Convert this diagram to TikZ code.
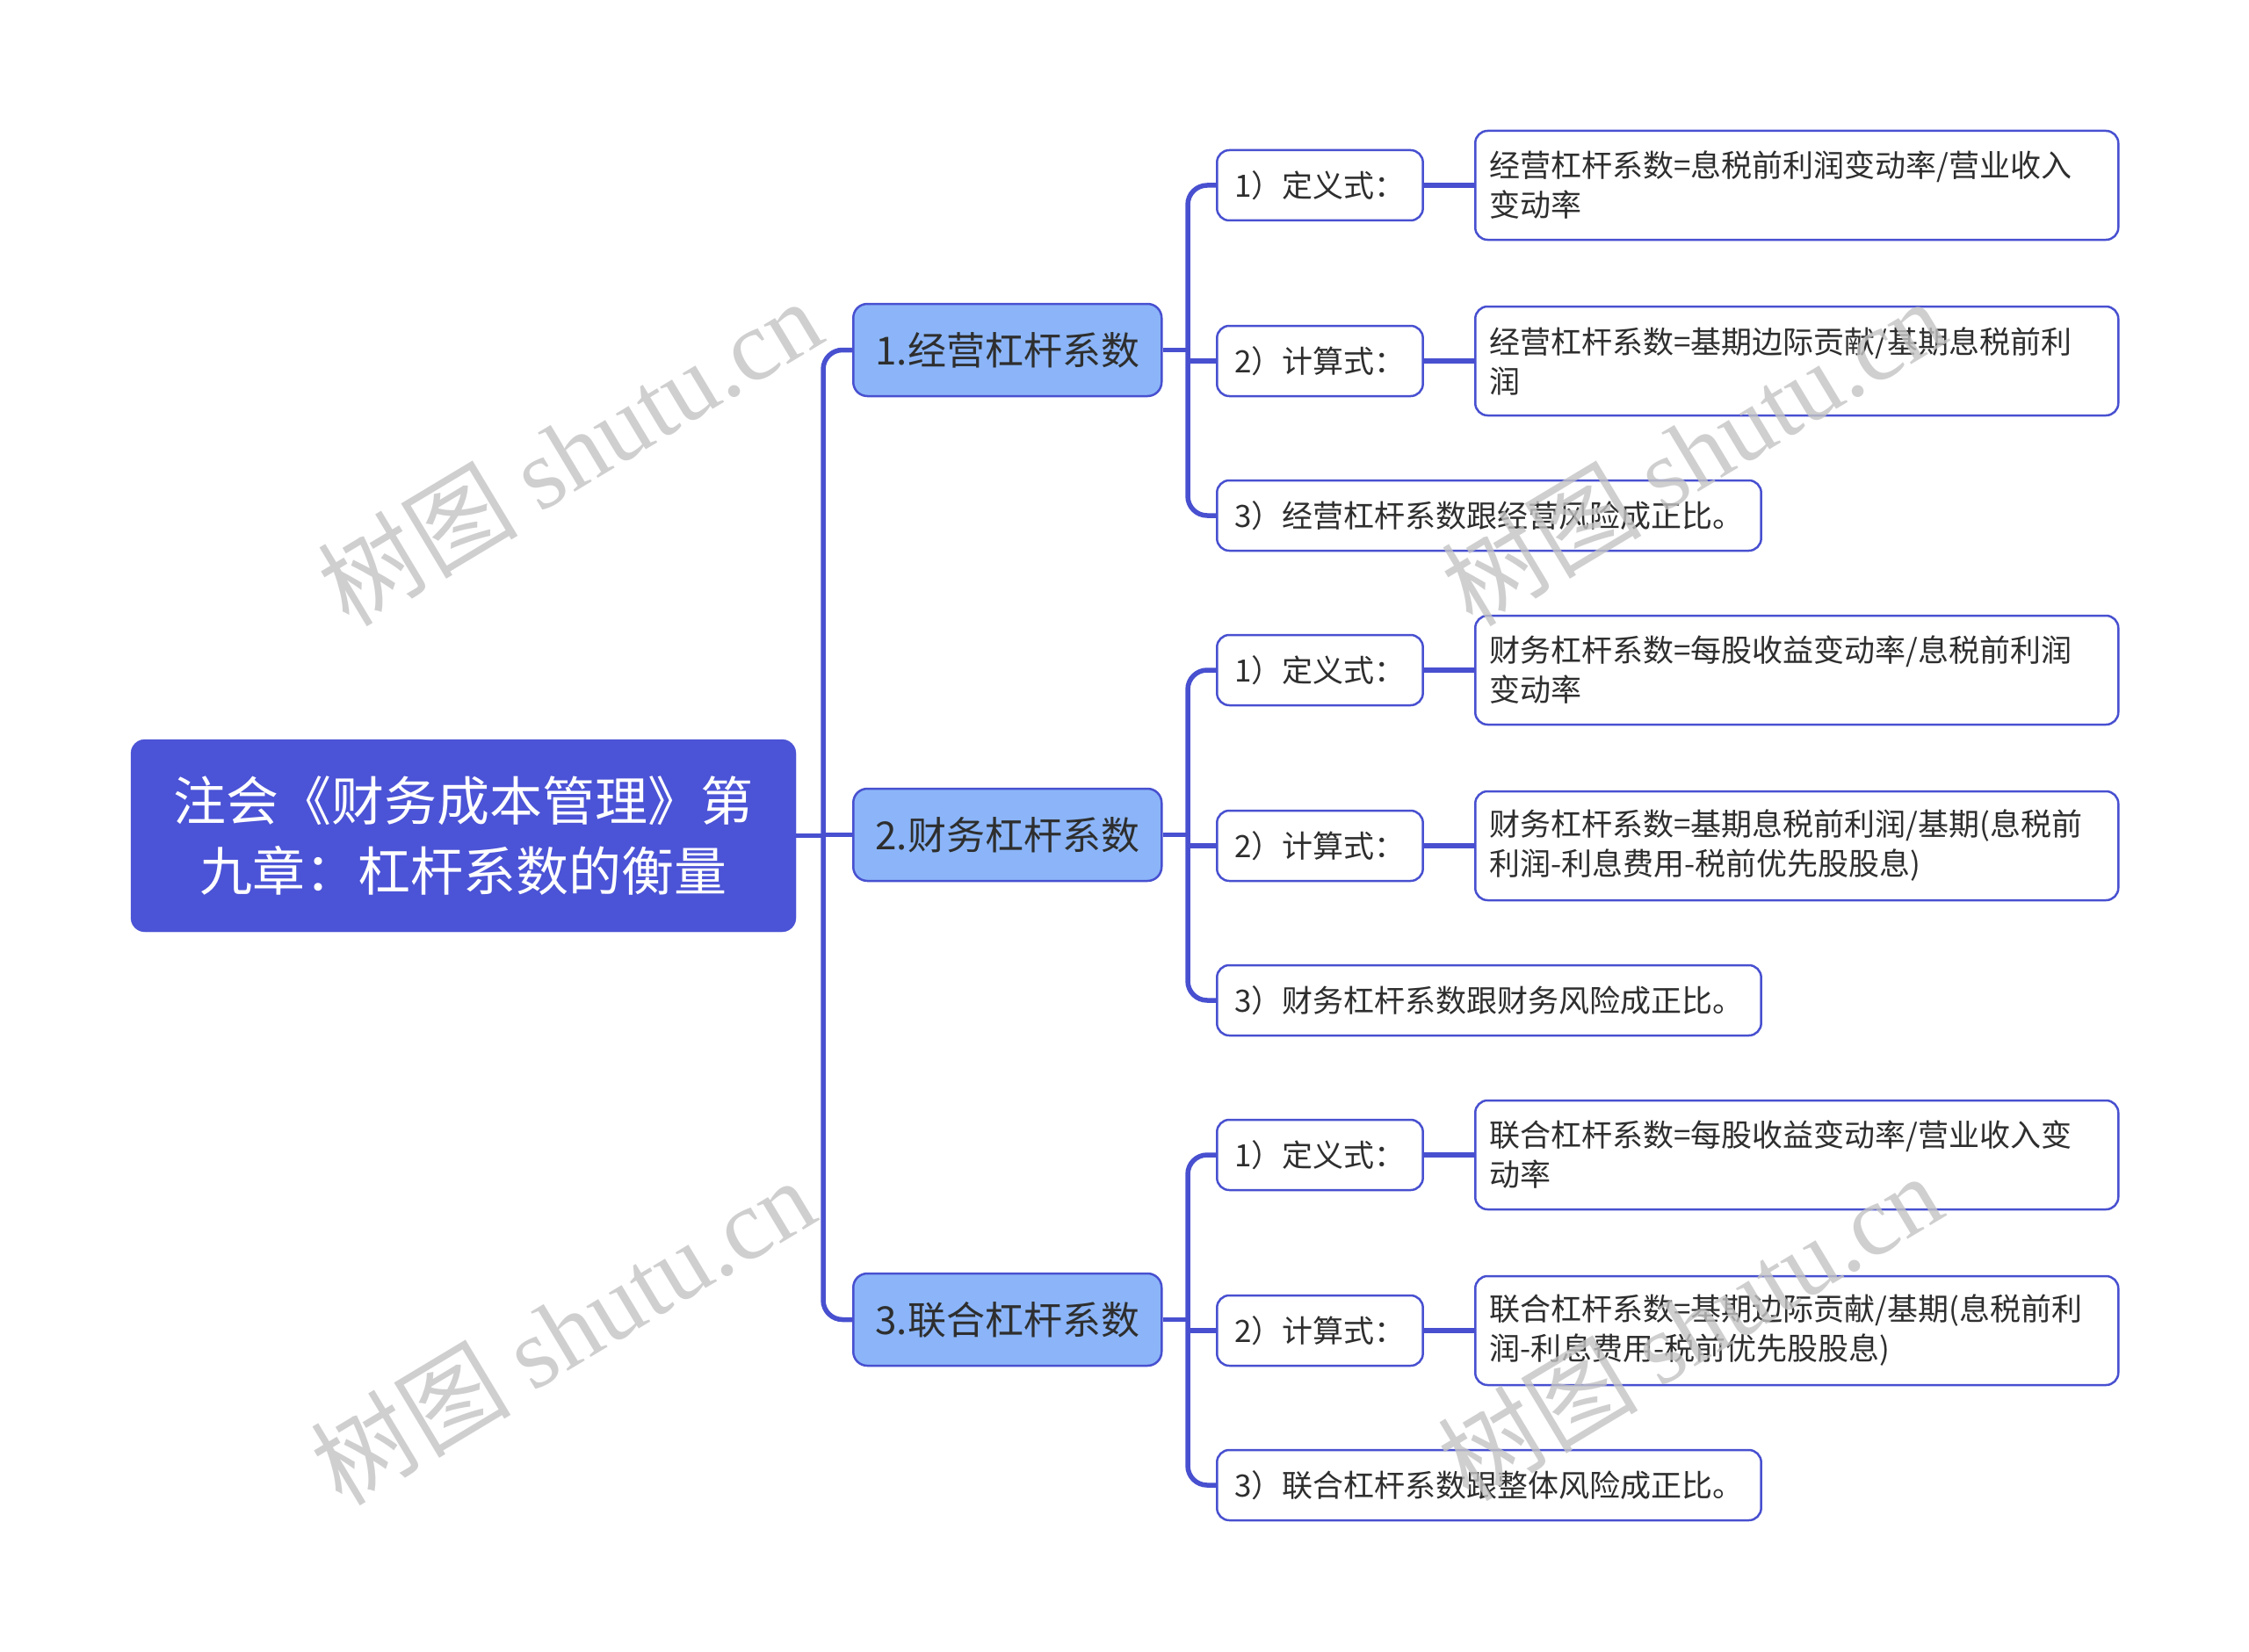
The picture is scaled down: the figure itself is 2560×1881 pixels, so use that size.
\documentclass[tikz,border=0pt]{standalone}
\usepackage{fontspec}
\setmainfont{Noto Sans CJK SC}
\newfontfamily\wmlatin{Liberation Serif}
\newfontfamily\wmcjk{Noto Sans CJK SC}
\usetikzlibrary{backgrounds}
\definecolor{rootfill}{HTML}{4B53D6}
\definecolor{lonefill}{HTML}{8BB5F8}
\definecolor{edgecol}{HTML}{4850D0}
\definecolor{txtcol}{HTML}{2E2E2E}
\definecolor{wmcol}{HTML}{C4C4C4}
\begin{document}
\begin{tikzpicture}[x=1pt,y=-1pt,
  rootbox/.style={draw=rootfill, fill=rootfill, rounded corners=16pt, minimum width=757pt, minimum height=219pt, align=center, text=white, font=\fontsize{60}{80}\selectfont, inner sep=0pt},
  lonebox/.style={draw=edgecol, line width=2.5pt, fill=lonefill, rounded corners=16pt, minimum width=351pt, minimum height=105pt, text=txtcol, font=\fontsize{44}{52}\selectfont, anchor=west, inner sep=0pt},
  ltwobox/.style={draw=edgecol, line width=2.5pt, fill=white, rounded corners=14pt, minimum height=80pt, inner xsep=20pt, inner ysep=0pt, text=txtcol, font=\fontsize{35}{45}\selectfont, anchor=west},
  lthreebox/.style={draw=edgecol, line width=2.5pt, fill=white, rounded corners=14pt, minimum height=124pt, text width=700pt, inner xsep=16pt, inner ysep=0pt, align=left, text=txtcol, font=\fontsize{35}{45}\selectfont, anchor=west},
  conn/.style={draw=edgecol, line width=5.5pt},
  wmark/.style={rotate=31, text=wmcol, text opacity=0.8, font=\fontsize{114}{114}\selectfont, inner sep=0pt},
]
\useasboundingbox (0,0) rectangle (2560,1881);

% root and level 1
\node[rootbox] (root) at (527.5,951.5) {注会《财务成本管理》第\\九章：杠杆系数的衡量};
\node[lonebox] (a) at (970,398.5) {1.经营杠杆系数};
\node[lonebox] (b) at (970,950.5) {2.财务杠杆系数};
\node[lonebox] (c) at (970,1502.5) {3.联合杠杆系数};

% group 1
\node[ltwobox] (a1) at (1384,211) {1）定义式：};
\node[ltwobox] (a2) at (1384,411) {2）计算式：};
\node[ltwobox] (a3) at (1384,587) {3）经营杠杆系数跟经营风险成正比。};
\node[lthreebox] (a1d) at (1678,211) {经营杠杆系数=息税前利润变动率/营业收入\\变动率};
\node[lthreebox] (a2d) at (1678,411) {经营杠杆系数=基期边际贡献/基期息税前利\\润};

% group 2
\node[ltwobox] (b1) at (1384,763) {1）定义式：};
\node[ltwobox] (b2) at (1384,963) {2）计算式：};
\node[ltwobox] (b3) at (1384,1139) {3）财务杠杆系数跟财务风险成正比。};
\node[lthreebox] (b1d) at (1678,763) {财务杠杆系数=每股收益变动率/息税前利润\\变动率};
\node[lthreebox] (b2d) at (1678,963) {财务杠杆系数=基期息税前利润/基期(息税前\\利润-利息费用-税前优先股股息)};

% group 3
\node[ltwobox] (c1) at (1384,1315) {1）定义式：};
\node[ltwobox] (c2) at (1384,1515) {2）计算式：};
\node[ltwobox] (c3) at (1384,1691) {3）联合杠杆系数跟整体风险成正比。};
\node[lthreebox] (c1d) at (1678,1315) {联合杠杆系数=每股收益变动率/营业收入变\\动率};
\node[lthreebox] (c2d) at (1678,1515) {联合杠杆系数=基期边际贡献/基期(息税前利\\润-利息费用-税前优先股股息)};

\coordinate (rs) at (937,951.5);
\coordinate (sa) at (1352,398.5);
\coordinate (sb) at (1352,950.5);
\coordinate (sc) at (1352,1502.5);

\begin{scope}[on background layer]
  \fill[white] (0,0) rectangle (2560,1881);
  \draw[conn] (root.east) -- (rs);
  \draw[conn, rounded corners=22pt] (a.west) -| (rs) |- (c.west);
  \draw[conn] (rs |- b.west) -- (b.west);
  \foreach \p/\s in {a/sa,b/sb,c/sc}{
    \draw[conn] (\p.east) -- (\s);
    \draw[conn, rounded corners=22pt] (\p1.west) -| (\s) |- (\p3.west);
    \draw[conn] (\s |- \p2.west) -- (\p2.west);
    \draw[conn] (\p1.east) -- (\p1d.west);
    \draw[conn] (\p2.east) -- (\p2d.west);
  }
\end{scope}

% watermarks
\node[wmark] (w1) at (648,514) {{\wmcjk 树图} {\wmlatin shutu.cn}};
\node[wmark] (w2) at (1927,514) {{\wmcjk 树图} {\wmlatin shutu.cn}};
\node[wmark] (w3) at (640,1515) {{\wmcjk 树图} {\wmlatin shutu.cn}};
\node[wmark] (w4) at (1923,1510) {{\wmcjk 树图} {\wmlatin shutu.cn}};
\end{tikzpicture}
\end{document}
